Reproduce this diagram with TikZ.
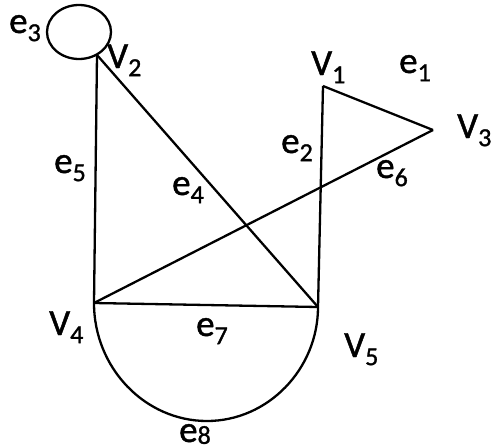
\documentclass[tikz,border=0pt]{standalone}
\usepackage{fontspec}
\setmainfont{Carlito}
\newfontfamily\labfont{Carlito}[FakeBold=1.2]
\newcommand{\glab}[3][0.22em]{#2\raisebox{-#1}{\fontsize{26}{26}\selectfont #3}}
\begin{document}
\begin{tikzpicture}[x=1pt,y=1pt,
  edge/.style={line width=2.3pt,line join=round},
  lbl/.style={anchor=base west,inner sep=0pt,font=\labfont\fontsize{37}{37}\selectfont}]
\useasboundingbox (0,0) rectangle (492,-447);
% vertices
\coordinate (V1) at (323,-86);
\coordinate (V2) at (97,-55);
\coordinate (V3) at (433,-130);
\coordinate (V4) at (94,-303);
\coordinate (V5) at (318,-307);
\coordinate (B) at (207,-421);
% edges
\draw[edge] (79,-32) ellipse [x radius=32,y radius=27];
\draw[edge] (V1) -- (V3);
\draw[edge] (V1) -- (V5);
\draw[edge] (V2) -- (V5);
\draw[edge] (V2) -- (V4);
\draw[edge] (V3) -- (V4);
\draw[edge] (V4) -- (V5);
\draw[edge] (V4) .. controls +(0,-65) and +(-62,0) .. (B)
                 .. controls +(61,0) and +(0,-62) .. (V5);
% labels
\node[lbl] (le3) at (9,-33) {\glab{e}{3}};
\node[lbl] (lV2) at (107,-68) {\glab{V}{2}};
\node[lbl] (lV1) at (311,-75) {\glab{V}{1}};
\node[lbl] (le1) at (399,-73) {\glab{e}{1}};
\node[lbl] (lV3) at (457,-138) {\glab{V}{3}};
\node[lbl] (le2) at (281,-153) {\glab{e}{2}};
\node[lbl] (le6) at (376,-178) {\glab{e}{6}};
\node[lbl] (le4) at (172,-195) {\glab{e}{4}};
\node[lbl] (le5) at (54,-173) {\glab{e}{5}};
\node[lbl] (lV4) at (49,-335) {\glab{V}{4}};
\node[lbl] (le7) at (196,-336) {\glab{e}{7}};
\node[lbl] (lV5) at (344,-357) {\glab{V}{5}};
\node[lbl] (le8) at (179,-442) {\glab[0.05em]{e}{8}};
\end{tikzpicture}
\end{document}
